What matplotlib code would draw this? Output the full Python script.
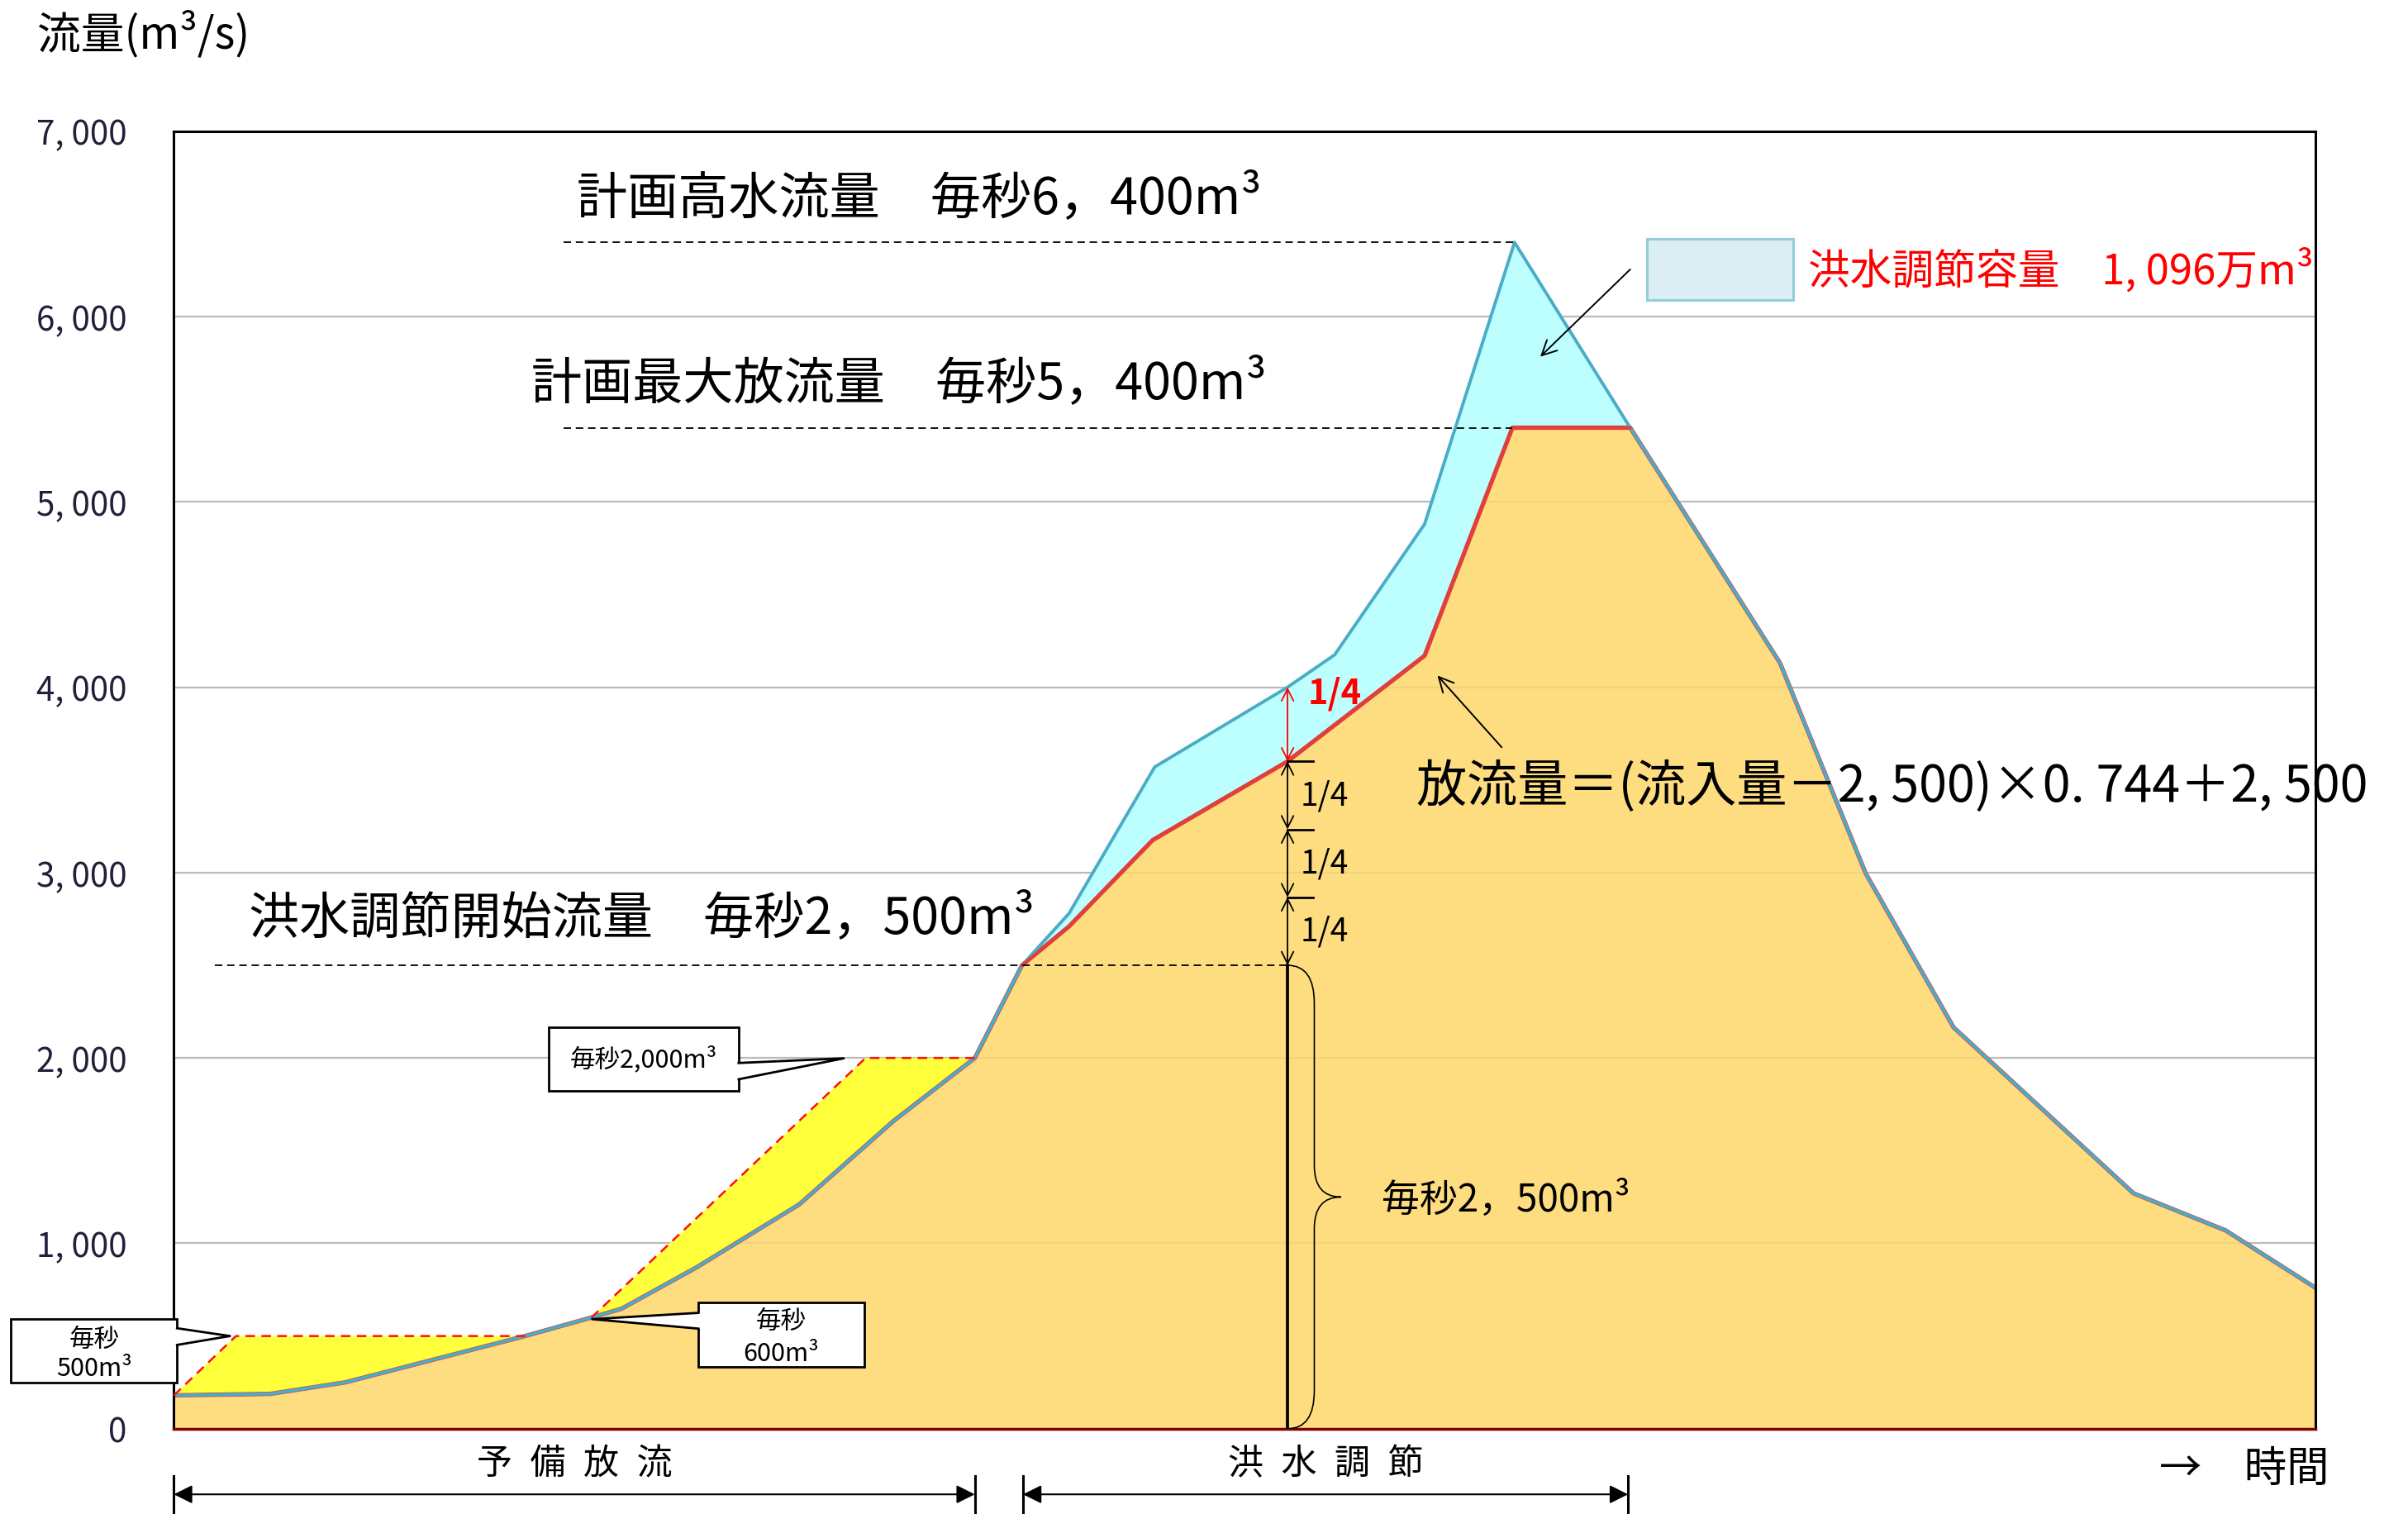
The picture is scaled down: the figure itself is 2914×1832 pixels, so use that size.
import numpy as np
import matplotlib
matplotlib.use('Agg')
import matplotlib.pyplot as plt
from matplotlib.patches import Rectangle, Polygon, PathPatch
from matplotlib.path import Path

plt.rcParams['font.family'] = ['Noto Sans CJK JP', 'DejaVu Sans']

inflow_t = [0.0, 4.5, 8.0, 16.4, 19.5, 20.9, 24.4, 29.2, 33.6, 37.4, 39.6, 41.8, 45.8,
            52.0, 54.2, 58.4, 62.6, 68.0, 75.0, 79.0, 83.1, 91.5, 95.8, 100.0]
inflow_q = [180, 188, 250, 500, 600, 647, 870, 1210, 1660, 2000, 2500, 2780, 3570,
            4000, 4175, 4880, 6400, 5400, 4130, 2995, 2165, 1270, 1070, 760]

# outflow during flood control
outflow_t = [39.6, 41.8, 45.7, 52.0, 58.4, 62.5, 68.0]
outflow_q = [2500, 2710, 3175, 3600, 4170, 5400, 5400]

# pre-release (予備放流) target lines
release1_t = [0.0, 2.9, 16.4]
release1_q = [180, 500, 500]
release2_t = [19.5, 32.3, 37.4]
release2_q = [600, 2000, 2000]

plan_high_q = 6400
plan_max_q = 5400
control_start_q = 2500
quarter_t = 52.0
quarter_q = [2500, 2867, 3233, 3600]
quarter_top_q = 4000

yticks = [0, 1000, 2000, 3000, 4000, 5000, 6000, 7000]
ytick_labels = ['0', '1, 000', '2, 000', '3, 000', '4, 000', '5, 000', '6, 000', '7, 000']

ORANGE = '#FED86B'
CYAN = '#BDFFFF'
YELLOW = '#FFFF3C'
BLUE = '#4BACC6'
RED = '#E0403C'

inflow_t = np.array(inflow_t)
inflow_q = np.array(inflow_q)

fig = plt.figure(figsize=(29.14, 18.33), dpi=100)
ax = fig.add_axes([0.0722, 0.0563, 0.8894, 0.8566])
ax.set_xlim(0, 100)
ax.set_ylim(0, 7000)

ax.set_yticks(yticks)
ax.set_yticklabels(ytick_labels, fontsize=29, color='#20203a')
ax.tick_params(axis='y', length=0, pad=41)
ax.set_xticks([])
ax.grid(axis='y', color='#BBBBBB', lw=1.6)
ax.set_axisbelow(True)
for side in ['left', 'right', 'top']:
    ax.spines[side].set_linewidth(2.2)
    ax.spines[side].set_color('black')
ax.spines['bottom'].set_linewidth(2.5)
ax.spines['bottom'].set_color('#7F0000')

# orange area: inflow outside control, outflow inside
before = inflow_t <= outflow_t[0]
after = inflow_t >= outflow_t[-1]
orange_t = list(inflow_t[before]) + outflow_t[1:-1] + list(inflow_t[after]) + [100, 0]
orange_q = list(inflow_q[before]) + outflow_q[1:-1] + list(inflow_q[after]) + [0, 0]
ax.add_patch(Polygon(list(zip(orange_t, orange_q)), closed=True, facecolor=ORANGE,
                     alpha=0.85, edgecolor='none', zorder=1))

# cyan: flood storage between inflow and outflow
mid = (inflow_t >= outflow_t[0]) & (inflow_t <= outflow_t[-1])
cyan_t = list(inflow_t[mid]) + outflow_t[::-1]
cyan_q = list(inflow_q[mid]) + outflow_q[::-1]
ax.add_patch(Polygon(list(zip(cyan_t, cyan_q)), closed=True, facecolor=CYAN,
                     edgecolor='none', zorder=1.2))

# yellow: pre-release volume
for rt, rq in [(release1_t, release1_q), (release2_t, release2_q)]:
    m = (inflow_t >= rt[0]) & (inflow_t <= rt[-1])
    yt = rt + list(inflow_t[m][::-1])
    yq = rq + list(inflow_q[m][::-1])
    ax.add_patch(Polygon(list(zip(yt, yq)), closed=True, facecolor=YELLOW,
                         edgecolor='none', zorder=1.2))
    ax.plot(rt, rq, color='#FF1010', lw=1.8, ls=(0, (4.6, 3.1)), zorder=3)

# lines
ax.plot(orange_t[:-2], orange_q[:-2], color=RED, lw=3.8, zorder=2)
ax.plot(inflow_t, inflow_q, color=BLUE, lw=2.8, zorder=2.5)
ax.plot(outflow_t, outflow_q, color=RED, lw=2.6, zorder=2.6)
ax.plot([100, 100], [0, inflow_q[-1]], color=RED, lw=1.5, zorder=2)

# guide lines
dash = (0, (5, 3.2))
ax.plot([18.2, 62.6], [plan_high_q, plan_high_q], color='black', lw=1.3, ls=dash, zorder=3)
ax.plot([18.2, 62.5], [plan_max_q, plan_max_q], color='black', lw=1.3, ls=dash, zorder=3)
ax.plot([1.9, quarter_t], [control_start_q, control_start_q], color='black', lw=1.3, ls=dash, zorder=3)

big = 44
ax.text(18.8, 6640, '計画高水流量　毎秒6，400m³', fontsize=big, va='center', ha='left')
ax.text(16.7, 5640, '計画最大放流量　毎秒5，400m³', fontsize=big, va='center', ha='left')
ax.text(3.5, 2757, '洪水調節開始流量　毎秒2，500m³', fontsize=big, va='center', ha='left')
ax.text(58.0, 3465, '放流量＝(流入量－2, 500)×0. 744＋2, 500', fontsize=big,
        va='center', ha='left', clip_on=False, zorder=5)

# legend of storage volume
ax.add_patch(Rectangle((68.8, 6091), 6.8, 326, facecolor='#DAEEF3', edgecolor='#93CDDD',
                       lw=2.2, zorder=4))
ax.text(76.3, 6250, '洪水調節容量　1, 096万m³', fontsize=36.5, color='#FF0000',
        va='center', ha='left', zorder=5, clip_on=False)
ax.annotate('', xy=(63.8, 5783), xytext=(68.0, 6254),
            arrowprops=dict(arrowstyle='->', lw=1.4, color='black', mutation_scale=32,
                            shrinkA=0, shrinkB=0), zorder=5)
ax.annotate('', xy=(59.0, 4063), xytext=(62.0, 3676),
            arrowprops=dict(arrowstyle='->', lw=1.4, color='black', mutation_scale=32,
                            shrinkA=0, shrinkB=0), zorder=5)

# 1/4 steps
for lo, hi in zip(quarter_q[:-1], quarter_q[1:]):
    ax.annotate('', xy=(quarter_t, hi), xytext=(quarter_t, lo),
                arrowprops=dict(arrowstyle='<->', lw=1.3, color='black', mutation_scale=26,
                                shrinkA=0, shrinkB=0), zorder=5)
    ax.plot([quarter_t, quarter_t + 1.2], [hi, hi], color='black', lw=2, zorder=5)
    ax.text(quarter_t + 0.6, (lo + hi) / 2, '1/4', fontsize=28, va='center', ha='left', zorder=5)
ax.annotate('', xy=(quarter_t, quarter_top_q), xytext=(quarter_t, quarter_q[-1]),
            arrowprops=dict(arrowstyle='<->', lw=1.3, color='#FF0000', mutation_scale=26,
                            shrinkA=0, shrinkB=0), zorder=5)
ax.text(quarter_t + 0.95, 3970, '1/4', fontsize=30, fontweight='bold', color='#FF0000',
        va='center', ha='left', zorder=5)

# base 2,500 bar and brace
ax.plot([quarter_t, quarter_t], [0, control_start_q], color='black', lw=2.7, zorder=5)
b0, b1, b2 = quarter_t, quarter_t + 1.25, quarter_t + 2.5
top, bot = control_start_q, 0
tip = (top + bot) / 2
verts = [(b0, top), (b1, top), (b1, top - 205), (b1, tip + 170), (b1, tip), (b2, tip),
         (b1, tip), (b1, tip - 170), (b1, bot + 205), (b1, bot), (b0, bot)]
codes = [Path.MOVETO, Path.CURVE3, Path.CURVE3, Path.LINETO, Path.CURVE3, Path.CURVE3,
         Path.CURVE3, Path.CURVE3, Path.LINETO, Path.CURVE3, Path.CURVE3]
ax.add_patch(PathPatch(Path(verts, codes), facecolor='none', edgecolor='black', lw=1.2, zorder=5))
ax.text(56.4, 1237, '毎秒2，500m³', fontsize=33, va='center', ha='left', zorder=5)


def callout(x0, x1, y0, y1, base_hi, base_lo, tip_pt, lines, line_y, size=22):
    ax.add_patch(Rectangle((x0, y0), x1 - x0, y1 - y0, facecolor='white', edgecolor='black',
                           lw=2, zorder=6, clip_on=False))
    bx = x1 if tip_pt[0] > x1 else x0
    inset = -0.25 if bx == x1 else 0.25
    ax.add_patch(Polygon([(bx + inset, base_hi), (bx, base_hi), tip_pt, (bx, base_lo),
                          (bx + inset, base_lo)], closed=True, facecolor='white',
                         edgecolor='none', zorder=6.5, clip_on=False))
    ax.plot([bx, tip_pt[0], bx], [base_hi, tip_pt[1], base_lo], color='black', lw=2,
            zorder=7, clip_on=False)
    for txt, ty in zip(lines, line_y):
        ax.text((x0 + x1) / 2, ty, txt, fontsize=size, ha='center', va='center', zorder=8)


callout(17.49, 26.37, 1824, 2168, 1973, 1885, (31.28, 1998), ['毎秒2,000m³'], [1996])
callout(24.49, 32.24, 332, 680, 625, 540, (19.53, 591), ['毎秒', '600m³'], [581, 407])
callout(-7.60, 0.15, 251, 593, 542, 452, (2.62, 500), ['毎秒', '500m³'], [482, 326])

# phases along the time axis
phases = [(0.0, 37.4, '予\u2002備\u2002放\u2002流'), (39.65, 67.9, '洪\u2002水\u2002調\u2002節')]
for s, e, name in phases:
    ax.annotate('', xy=(e, -354), xytext=(s, -354), annotation_clip=False,
                arrowprops=dict(arrowstyle='<|-|>', lw=1.5, color='black', mutation_scale=34,
                                shrinkA=0, shrinkB=0))
    for x in (s, e):
        ax.plot([x, x], [-253, -470], color='black', lw=2.2, clip_on=False)
    ax.text((s + e) / 2, -191, name, fontsize=31, ha='center', va='center')
ax.text(92.7, -216, '→　時間', fontsize=37, ha='left', va='center', clip_on=False)

fig.text(45 / 2914, 1 - 41.5 / 1833, '流量(m³/s)', fontsize=38, ha='left', va='center')

fig.savefig('out.png', dpi=100)
